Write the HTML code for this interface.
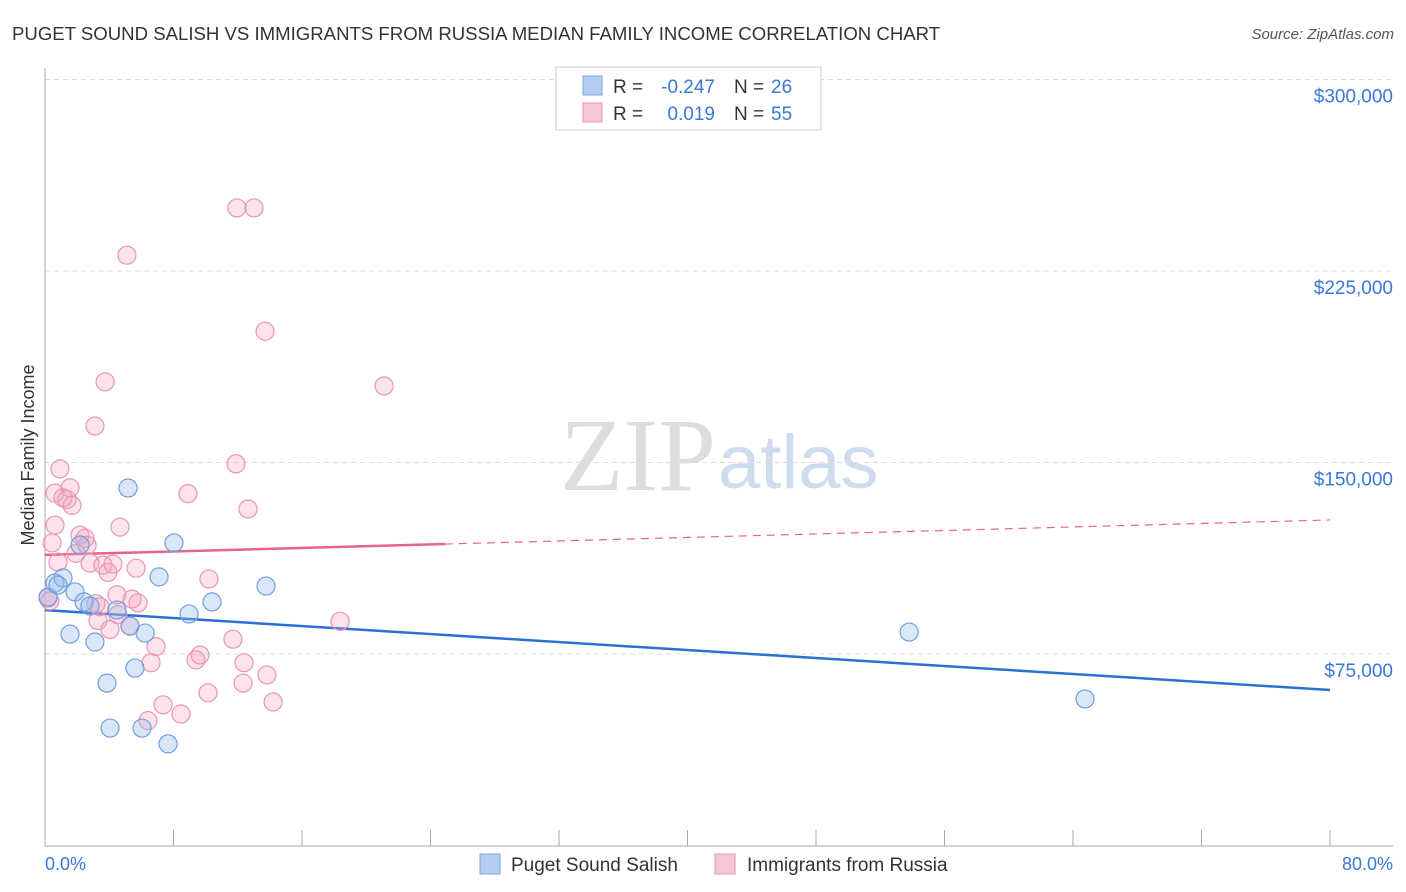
<!DOCTYPE html>
<html><head><meta charset="utf-8"><style>
body{margin:0;background:#fff;font-family:"Liberation Sans",sans-serif;}
svg{display:block}
</style></head><body>
<svg id="chart" width="1406" height="892">
<text x="12" y="40" font-size="18.6" fill="#333">PUGET SOUND SALISH VS IMMIGRANTS FROM RUSSIA MEDIAN FAMILY INCOME CORRELATION CHART</text>
<text x="1394" y="39" font-size="15" fill="#555" font-style="italic" text-anchor="end">Source: ZipAtlas.com</text>
<text x="716" y="490" font-size="104" fill="#ddd" text-anchor="end" font-family="Liberation Serif,serif">ZIP</text>
<text x="718" y="488" font-size="76" fill="#cfdcef">atlas</text>
<g id="grid"></g><g id="axes"></g><g id="trend"></g><g id="pts"></g>
<text transform="translate(34,455) rotate(-90)" font-size="18" fill="#333" text-anchor="middle">Median Family Income</text>
<text x="45" y="870" font-size="18" fill="#3a78d8">0.0%</text>
<text x="1393" y="870" font-size="18" fill="#3a78d8" text-anchor="end">80.0%</text>
<g>
<rect x="556" y="67" width="265" height="63" fill="#fff" stroke="#ccc"/>
<rect x="583" y="76" width="19" height="19" fill="#b5cdf2" stroke="#7aa6e0"/>
<rect x="583" y="103" width="19" height="19" fill="#f9c6d6" stroke="#e896b5"/>
<text x="613" y="93" font-size="19" fill="#333">R =</text>
<text x="715" y="93" font-size="19" fill="#3a78d8" text-anchor="end">-0.247</text>
<text x="734" y="93" font-size="19" fill="#333">N =</text>
<text x="771" y="93" font-size="19" fill="#3a78d8">26</text>
<text x="613" y="120" font-size="19" fill="#333">R =</text>
<text x="715" y="120" font-size="19" fill="#3a78d8" text-anchor="end">0.019</text>
<text x="734" y="120" font-size="19" fill="#333">N =</text>
<text x="771" y="120" font-size="19" fill="#3a78d8">55</text>
</g>
<g>
<rect x="480" y="854" width="20" height="20" fill="#b5cdf2" stroke="#7aa6e0"/>
<text x="511" y="871" font-size="19" fill="#333">Puget Sound Salish</text>
<rect x="715" y="854" width="20" height="20" fill="#f9c6d6" stroke="#e896b5"/>
<text x="747" y="871" font-size="19" fill="#333">Immigrants from Russia</text>
</g>
</svg>
<script>
const yTicks=[75000,150000,225000,300000];
const yTickLabels=["$75,000","$150,000","$225,000","$300,000"];
const blueX=[0.19,0.62,1.12,0.81,1.56,1.87,2.43,2.8,3.11,2.18,3.86,4.05,4.48,5.17,5.29,5.6,6.04,6.23,7.1,7.66,8.03,8.97,10.4,13.76,53.8,64.75];
const blueY=[97300,102800,104800,102000,82800,99300,95400,93800,79700,117700,63600,46000,92200,140000,86000,69500,46000,83200,105200,39800,118500,90700,95400,101600,83600,57400];
const pinkX=[0.19,0.44,0.62,0.81,0.62,0.93,1.12,1.37,1.56,1.68,1.93,2.18,2.49,2.62,2.8,3.11,3.17,3.3,3.42,3.61,3.74,3.92,4.05,4.23,4.48,4.54,4.67,5.1,5.29,5.42,5.67,5.79,6.41,6.6,6.91,7.35,8.47,8.9,9.4,9.65,10.15,10.21,11.7,11.89,11.95,12.33,12.39,12.64,13.01,13.7,13.82,14.2,18.37,21.11,0.3];
const pinkY=[96900,118500,125500,111000,138000,147500,136200,135500,140100,133200,114400,121500,120300,117600,110600,164300,94700,88100,93500,109800,181600,107000,84600,110200,98200,90400,124700,231200,85900,96500,108600,95000,48900,71600,77900,55100,51500,137800,72700,74600,59800,104400,80800,149500,249700,63600,71600,131800,249700,201400,66800,56200,87800,180000,95800];
const blueTrend=[92200,60900];
const pinkTrend=[113800,127500];
const NS="http://www.w3.org/2000/svg";
const X=v=>45+v/80*1285;
const Y=v=>845.5-v*191.5/75000;
function mk(tag,attrs,parent){const e=document.createElementNS(NS,tag);for(const k in attrs)e.setAttribute(k,attrs[k]);document.getElementById(parent).appendChild(e);return e;}
yTicks.forEach((t,i)=>{
 const g=mk('line',{x1:45,x2:1393,y1:Y(t),y2:Y(t),stroke:'#ddd','stroke-dasharray':'5,4'},'grid');
 
 
 const l=mk('text',{x:1393,y:Y(t)+23,'font-size':19,fill:'#3a78d8','text-anchor':'end'},'grid');
 l.textContent=yTickLabels[i];
 
 
});
const ya=mk('line',{x1:45,x2:45,y1:68,y2:846,stroke:'#aaa'},'axes');


const xa=mk('line',{x1:45,x2:1393,y1:846,y2:846,stroke:'#aaa'},'axes');


for(let i=0;i<=10;i++){const t=mk('line',{x1:X(i*8),x2:X(i*8),y1:830,y2:846,stroke:'#aaa'},'axes');
 
 }
const bt=mk('line',{x1:X(0),y1:Y(blueTrend[0]),x2:X(80),y2:Y(blueTrend[1]),stroke:'#2a6fd6','stroke-width':2.5},'trend');


const pAt=x=>pinkTrend[0]+(pinkTrend[1]-pinkTrend[0])*x/80;
const ps=mk('line',{x1:X(0),y1:Y(pAt(0)),x2:X(24.9),y2:Y(pAt(24.9)),stroke:'#e8628f','stroke-width':2.5},'trend');


const pd=mk('line',{x1:X(24.9),y1:Y(pAt(24.9)),x2:X(80),y2:Y(pAt(80)),stroke:'#e8628f','stroke-width':1.2,'stroke-dasharray':'8,6'},'trend');


pinkX.forEach((x,i)=>{const c=mk('circle',{cx:X(x),cy:Y(pinkY[i]),r:9,fill:'rgba(245,160,190,0.3)',stroke:'#e896b5','stroke-width':1.2},'pts');
 
 });
blueX.forEach((x,i)=>{const c=mk('circle',{cx:X(x),cy:Y(blueY[i]),r:9,fill:'rgba(150,185,235,0.35)',stroke:'#6f9fe0','stroke-width':1.2},'pts');
 
 });
</script>
</body></html>
